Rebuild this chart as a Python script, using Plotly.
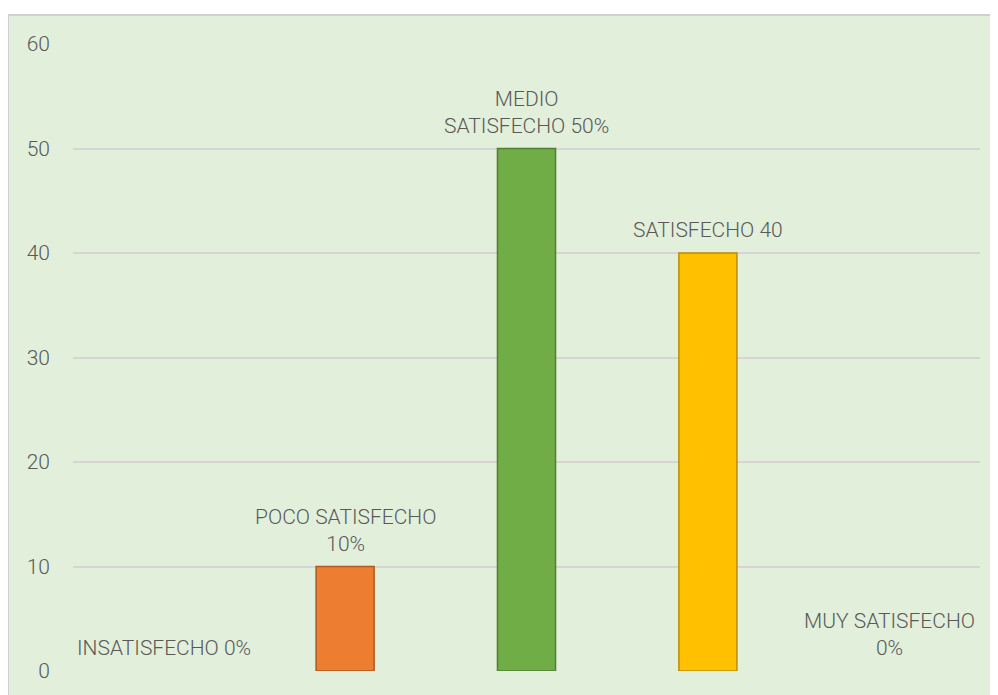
import plotly.graph_objects as go

categories = ["INSATISFECHO", "POCO SATISFECHO", "MEDIO SATISFECHO", "SATISFECHO", "MUY SATISFECHO"]
values = [0, 10, 50, 40, 0]
labels = ["INSATISFECHO 0%", "POCO SATISFECHO<br>10%", "MEDIO<br>SATISFECHO 50%", "SATISFECHO 40", "MUY SATISFECHO<br>0%"]
bar_colors = ["#5B9BD5", "#ED7D31", "#70AD47", "#FFC000", "#4472C4"]
edge_colors = ["rgba(0,0,0,0)", "#AE5A21", "#507E32", "#BC8C00", "rgba(0,0,0,0)"]
y_ticks = [0, 10, 20, 30, 40, 50, 60]

FONT = "Roboto, sans-serif"
TXT = "#595959"
BG = "#E2EFDA"

fig = go.Figure()
fig.add_trace(go.Bar(
    x=categories, y=values,
    marker=dict(color=bar_colors, line=dict(color=edge_colors, width=1.5)),
    hoverinfo="skip",
))

for c, v, t in zip(categories, values, labels):
    fig.add_annotation(x=c, y=v, text=t, showarrow=False, yanchor="bottom",
                       yshift=9, font=dict(family=FONT, size=21, color=TXT, weight=300),
                       align="center")

# page body has an 8px margin, so the figure starts at (8, 8)
W, H = 990, 687
L, R, T, B = 65, 18, 36, 24
pw = W - L - R
ph = H - T - B
fig.add_shape(type="rect", xref="paper", yref="paper", layer="below",
              x0=(0 - L) / pw, x1=(W + 2 - L) / pw,
              y0=-(B + 2) / ph, y1=(H - B - 7) / ph,
              fillcolor=BG, line=dict(color="#D0D0D0", width=2))

fig.update_layout(
    width=W, height=H,
    margin=dict(l=L, r=R, t=T, b=B),
    paper_bgcolor="white", plot_bgcolor="rgba(0,0,0,0)",
    bargap=0.68, showlegend=False,
    font=dict(family=FONT, size=21, color=TXT, weight=300),
)
fig.update_xaxes(showticklabels=False, showgrid=False, zeroline=False, showline=False)
fig.update_yaxes(range=[0, 60], tickvals=y_ticks, showgrid=True, gridcolor="#D5D5D5",
                 gridwidth=2, zeroline=False, showline=False,
                 ticklabelstandoff=22,
                 tickfont=dict(family=FONT, size=21, color=TXT, weight=300))

fig.write_html("out.html")
